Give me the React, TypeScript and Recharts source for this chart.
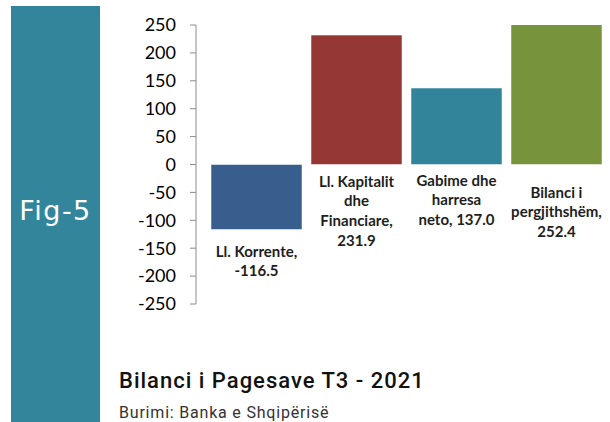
import { BarChart, Bar, XAxis, YAxis, Cell } from 'recharts';

// Bilanci i Pagesave, T3 2021 (mln euro)
const categories = ['Ll. Korrente', 'Ll. Kapitalit dhe Financiare', 'Gabime dhe harresa neto', 'Bilanci i pergjithshëm'];
const values = [-116.5, 231.9, 137.0, 252.4];
// label lines as they wrap in the original; {v} is replaced by the value
const labelLines = [
  ['Ll. Korrente,', '{v}'],
  ['Ll. Kapitalit', 'dhe', 'Financiare,', '{v}'],
  ['Gabime dhe', 'harresa', 'neto, {v}'],
  ['Bilanci i', 'pergjithshëm,', '{v}'],
];
const yTicks = [250, 200, 150, 100, 50, 0, -50, -100, -150, -200, -250];

const barColors = ['#385e8e', '#943735', '#31849a', '#77933c'];
const labelDy = [27, 22, 21, 33];
const SIDEBAR = '#32859a';

const data = categories.map((name, i) => ({ name, value: values[i] }));

function BarLabel(props: any) {
  const { x, y, width, height, index } = props;
  const bottom = Math.max(y, y + height);
  const cx = x + width / 2;
  const v = values[index].toFixed(1);
  const lines = labelLines[index].map((l) => l.replace('{v}', v));
  return (
    <text
      x={cx}
      y={bottom + labelDy[index]}
      textAnchor="middle"
      fontFamily="Lato, 'Open Sans', sans-serif"
      fontWeight={700}
      fontSize={15}
      fill="#1e1e1e"
    >
      {lines.map((l, i) => (
        <tspan key={i} x={cx} dy={i === 0 ? 0 : 19.8}>
          {l}
        </tspan>
      ))}
    </text>
  );
}

export default function App() {
  return (
    <div style={{ position: 'absolute', left: 0, top: 0, width: 610, height: 422, background: '#fff', overflow: 'hidden' }}>
      <div style={{ position: 'absolute', left: 11, top: 6, width: 89, height: 416, background: SIDEBAR }} />
      <div
        style={{
          position: 'absolute',
          left: 11,
          width: 89,
          top: 194,
          textAlign: 'center',
          color: '#fff',
          fontFamily: "'DejaVu Sans', sans-serif",
          fontSize: 27,
          letterSpacing: 1.5,
          lineHeight: '34px',
        }}
      >
        Fig-5
      </div>
      <div style={{ position: 'absolute', left: 0, top: 0 }}>
        <BarChart width={610} height={422} data={data} margin={{ top: 25, right: 4, bottom: 118, left: 0 }}>
          <XAxis dataKey="name" hide padding={{ left: 10, right: 0 }} />
          <YAxis
            width={196}
            domain={[-250, 250]}
            ticks={yTicks}
            interval={0}
            allowDataOverflow
            axisLine={{ stroke: '#8c8c8c' }}
            tickLine={{ stroke: '#8c8c8c' }}
            tickSize={6}
            tickMargin={14}
            tick={{ fill: '#000', fontSize: 18, fontFamily: 'Lato, sans-serif' }}
          />
          <Bar dataKey="value" barSize={91} isAnimationActive={false} label={BarLabel} stroke="#ffffff" strokeOpacity={0.5}>
            {data.map((d, i) => (
              <Cell key={d.name} fill={barColors[i]} />
            ))}
          </Bar>
        </BarChart>
      </div>
      <div
        style={{
          position: 'absolute',
          left: 119,
          top: 368,
          fontFamily: "Roboto, 'Liberation Sans', sans-serif",
          fontWeight: 500,
          fontSize: 22,
          letterSpacing: 1,
          color: '#111',
          lineHeight: '26px',
          whiteSpace: 'nowrap',
        }}
      >
        Bilanci i Pagesave T3 - 2021
      </div>
      <div
        style={{
          position: 'absolute',
          left: 119,
          top: 403,
          fontFamily: "Roboto, 'Liberation Sans', sans-serif",
          fontSize: 16,
          letterSpacing: 0.8,
          color: '#333',
          lineHeight: '20px',
          whiteSpace: 'nowrap',
        }}
      >
        Burimi: Banka e Shqipërisë
      </div>
    </div>
  );
}
